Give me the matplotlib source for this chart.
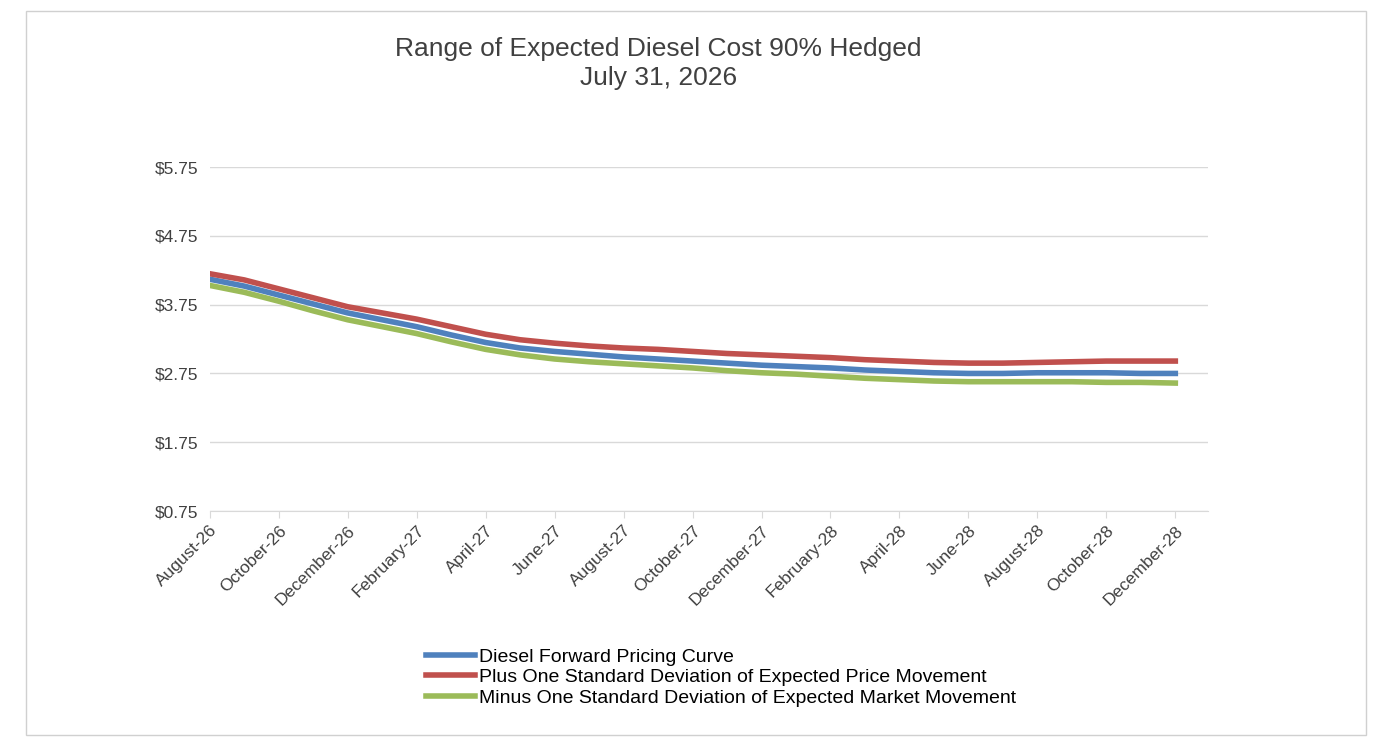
import matplotlib
matplotlib.use("Agg")
import matplotlib.pyplot as plt
from matplotlib.patches import Rectangle

months = ["August-26", "September-26", "October-26", "November-26", "December-26",
          "January-27", "February-27", "March-27", "April-27", "May-27", "June-27",
          "July-27", "August-27", "September-27", "October-27", "November-27",
          "December-27", "January-28", "February-28", "March-28", "April-28",
          "May-28", "June-28", "July-28", "August-28", "September-28",
          "October-28", "November-28", "December-28"]
forward = [4.12, 4.02, 3.89, 3.76, 3.63, 3.53, 3.43, 3.31, 3.20, 3.12, 3.07,
           3.03, 2.99, 2.96, 2.93, 2.90, 2.87, 2.85, 2.83, 2.80, 2.78, 2.76,
           2.75, 2.75, 2.76, 2.76, 2.76, 2.75, 2.75]
plus_sd = [4.20, 4.11, 3.98, 3.85, 3.72, 3.63, 3.54, 3.43, 3.32, 3.24, 3.19,
           3.15, 3.12, 3.10, 3.07, 3.04, 3.02, 3.00, 2.98, 2.95, 2.93, 2.91,
           2.90, 2.90, 2.91, 2.92, 2.93, 2.93, 2.93]
minus_sd = [4.03, 3.93, 3.80, 3.66, 3.53, 3.43, 3.33, 3.21, 3.10, 3.02, 2.96,
            2.92, 2.89, 2.86, 2.83, 2.79, 2.76, 2.74, 2.71, 2.68, 2.66, 2.64,
            2.63, 2.63, 2.63, 2.63, 2.62, 2.62, 2.61]
yticks = [0.75, 1.75, 2.75, 3.75, 4.75, 5.75]

plt.rcParams["font.family"] = ["Liberation Sans", "DejaVu Sans"]
fig = plt.figure(figsize=(13.89, 7.46), dpi=100)
fig.patches.append(Rectangle((26 / 1389, 11 / 746), 1340 / 1389, 724 / 746,
                             transform=fig.transFigure, fill=False,
                             edgecolor="#d0d0d0", linewidth=1))
ax = fig.add_axes([0.151, 0.315, 0.719, 0.461])

x = list(range(len(months)))
ax.plot(x, forward, color="#4f81bd", lw=4, label="Diesel Forward Pricing Curve")
ax.plot(x, plus_sd, color="#c0504d", lw=4,
        label="Plus One Standard Deviation of Expected Price Movement")
ax.plot(x, minus_sd, color="#9bbb59", lw=4,
        label="Minus One Standard Deviation of Expected Market Movement")

ax.set_ylim(0.75, 5.75)
ax.set_yticks(yticks)
ax.set_yticklabels([f"${v:.2f}" for v in yticks], fontsize=12.5, color="#404040")
ax.set_xlim(0, 28.96)
ax.set_xticks(x[::2])
ax.set_xticklabels(months[::2], rotation=45, ha="right", rotation_mode="anchor",
                   fontsize=12.5, color="#404040")
ax.grid(axis="y", color="#d9d9d9", lw=1)
ax.set_axisbelow(True)
for s in ["top", "right", "left"]:
    ax.spines[s].set_visible(False)
ax.spines["bottom"].set_color("#d9d9d9")
ax.tick_params(axis="y", length=0, pad=8)
ax.tick_params(axis="x", length=5, color="#d9d9d9")

fig.text(0.474, 0.915, "Range of Expected Diesel Cost 90% Hedged\nJuly 31, 2026",
         ha="center", va="center", fontsize=19, color="#404040", linespacing=1.3)
fig.legend(loc="center", bbox_to_anchor=(0.519, 0.092), frameon=False,
           fontsize=14, handlelength=2.5, handletextpad=0.2, labelspacing=0.15)

fig.savefig("out.png", dpi=100, facecolor="white")
